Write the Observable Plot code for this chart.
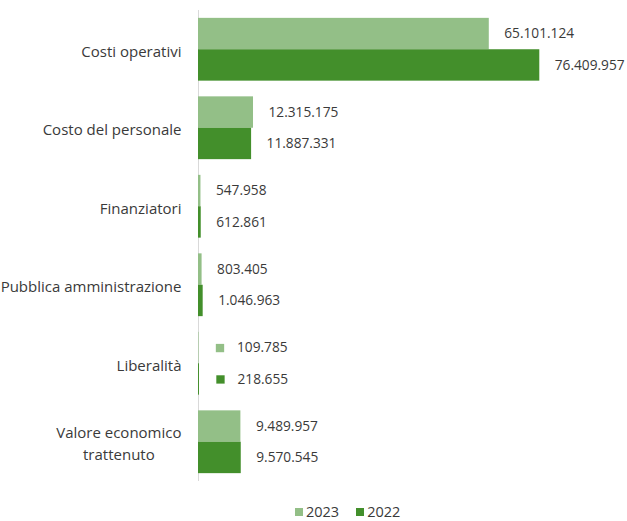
<!DOCTYPE html>
<html>
<head>
<meta charset="utf-8">
<script src="https://cdn.jsdelivr.net/npm/d3@7"></script>
<script src="https://cdn.jsdelivr.net/npm/@observablehq/plot@0.6"></script>
<style>
  html, body { margin: 0; background: #fff; font-family: "Open Sans", sans-serif; overflow: hidden; }
  #chart svg { display: block; }
  .legend { display: flex; align-items: center; height: 18px; line-height: 18px; margin-top: 10px; padding-left: 295px; font-size: 14.5px; color: #3a3a3a; }
  .legend .sw { width: 8px; height: 8px; margin-right: 3px; }
  .legend .item { display: flex; align-items: center; margin-right: 17px; }
</style>
</head>
<body>
<div id="chart"></div>
<div class="legend" id="legend"></div>
<script>
const categories = [
  "Costi operativi",
  "Costo del personale",
  "Finanziatori",
  "Pubblica amministrazione",
  "Liberalità",
  "Valore economico\ntrattenuto"
];
const years = ["2023", "2022"];
const values2023 = [65101124, 12315175, 547958, 803405, 109785, 9489957];
const values2022 = [76409957, 11887331, 612861, 1046963, 218655, 9570545];
const labelsWithKey = ["Liberalità"];
const colors = ["#93bf87", "#438f2b"];

const fmt = d3.formatLocale({decimal: ",", thousands: ".", grouping: [3], currency: ["€", ""]}).format(",d");

const rows = categories.flatMap((c, i) => [
  {category: c, idx: i, year: "2023", value: values2023[i]},
  {category: c, idx: i, year: "2022", value: values2022[i]}
]);
const half = 0.4;
const y1 = d => d.year === "2023" ? d.idx - half : d.idx;
const y2 = d => d.year === "2023" ? d.idx : d.idx + half;
const yMid = d => d.year === "2023" ? d.idx - half / 2 : d.idx + half / 2;
const plainRows = rows.filter(d => !labelsWithKey.includes(d.category));
const keyRows = rows.filter(d => labelsWithKey.includes(d.category));

const chart = Plot.plot({
  width: 627,
  height: 493,
  marginLeft: 198,
  marginRight: 27,
  marginTop: 10,
  marginBottom: 12,
  style: {fontFamily: "Open Sans, sans-serif", background: "white", overflow: "hidden"},
  x: {domain: [0, 90e6], axis: null},
  y: {domain: [-0.5, categories.length - 0.5], reverse: true, axis: null},
  color: {domain: years, range: colors},
  marks: [
    Plot.ruleX([0], {stroke: "#d9d9d9", strokeWidth: 1}),
    Plot.rectX(rows, {x: "value", y1, y2, fill: "year"}),
    Plot.text(plainRows, {x: "value", y: yMid, text: d => fmt(d.value), dx: 15, textAnchor: "start", fill: "#3a3a3a", fontSize: 13.7}),
    Plot.dot(keyRows, {x: "value", y: yMid, dx: 21, symbol: "square", r: 4.7, fill: "year"}),
    Plot.text(keyRows, {x: "value", y: yMid, text: d => fmt(d.value), dx: 38, textAnchor: "start", fill: "#3a3a3a", fontSize: 13.7}),
    Plot.text(categories, {x: () => 0, y: (d, i) => i, text: d => d, dx: -17, textAnchor: "end", lineAnchor: "middle", lineHeight: 1.42, fill: "#3a3a3a", fontSize: 15})
  ]
});
document.getElementById("chart").appendChild(chart);

// center multi-line category labels as a block, right-aligned
chart.querySelectorAll("text").forEach(t => {
  const spans = t.querySelectorAll("tspan");
  if (spans.length > 1) {
    const w = t.getBBox().width;
    t.setAttribute("text-anchor", "middle");
    spans.forEach(s => s.setAttribute("x", -w / 2));
  }
});

const legend = document.getElementById("legend");
years.forEach((y, i) => {
  const item = document.createElement("div");
  item.className = "item";
  const sw = document.createElement("div");
  sw.className = "sw";
  sw.style.background = colors[i];
  const lab = document.createElement("span");
  lab.textContent = y;
  item.appendChild(sw);
  item.appendChild(lab);
  legend.appendChild(item);
});
</script>
</body>
</html>
